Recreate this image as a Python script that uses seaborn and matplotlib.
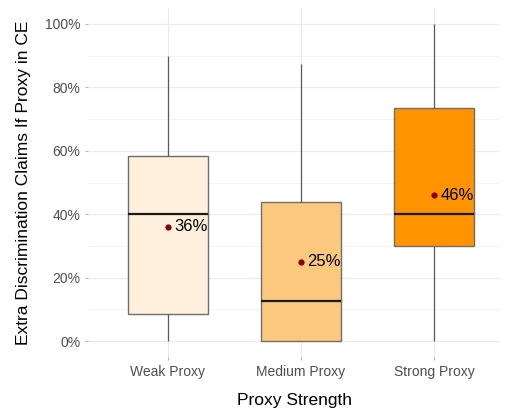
import numpy as np
import pandas as pd
import matplotlib
matplotlib.use("Agg")
import matplotlib.pyplot as plt
from matplotlib.ticker import FixedLocator, PercentFormatter
import seaborn as sns

# Five-number summaries (min, Q1, median, Q3, max) per proxy strength, in %
categories = ["Weak Proxy", "Medium Proxy", "Strong Proxy"]
weak_summary = [0, 8.5, 40, 58.5, 90]
medium_summary = [0, 0, 12.5, 44, 87.5]
strong_summary = [0, 30, 40, 73.5, 100]
means = [36, 25, 46]
fill_colors = ["#FEF0DC", "#FBC97E", "#FF9400"]

df = pd.DataFrame({
    "strength": np.repeat(categories, 5),
    "claims": weak_summary + medium_summary + strong_summary,
})

sns.set_theme(style="white")
plt.rcParams["font.family"] = ["Liberation Sans", "DejaVu Sans"]

fig = plt.figure(figsize=(5.06, 4.09), dpi=100)
ax = fig.add_axes([88 / 506, 52 / 409, 412.5 / 506, 349 / 409])

sns.boxplot(
    data=df, x="strength", y="claims", hue="strength", order=categories,
    hue_order=categories, palette=fill_colors, saturation=1, width=0.6,
    whis=(0, 100), linecolor="#6E6E6E", linewidth=1.0, fliersize=0,
    legend=False, ax=ax,
    medianprops={"color": "#1A1A1A", "linewidth": 1.6},
    whiskerprops={"color": "#5A5A5A", "linewidth": 0.9},
    capprops={"linewidth": 0}, zorder=2,
)

sns.stripplot(x=categories, y=means, order=categories, jitter=False,
              color="#8B0000", size=4.5, linewidth=0, ax=ax, zorder=4)

for i, m in enumerate(means):
    ax.text(i + 0.05, m, f"{m}%", ha="left", va="center",
            fontsize=12, color="black", zorder=5)

ax.set_xlim(-0.6, 2.5)
ax.set_ylim(-5, 105)
ax.yaxis.set_major_locator(FixedLocator([0, 20, 40, 60, 80, 100]))
ax.yaxis.set_minor_locator(FixedLocator([10, 30, 50, 70, 90]))
ax.yaxis.set_major_formatter(PercentFormatter(decimals=0))

ax.grid(True, which="major", color="#EBEBEB", linewidth=0.9, zorder=0)
ax.grid(True, which="minor", axis="y", color="#F3F3F3", linewidth=0.6, zorder=0)
ax.set_axisbelow(True)
for s in ax.spines.values():
    s.set_visible(False)

ax.tick_params(axis="both", which="major", length=2.5, width=0.6,
               color="#AAAAAA", labelsize=10, labelcolor="#4D4D4D", pad=3)
ax.tick_params(axis="y", which="minor", length=0)
ax.tick_params(axis="x", bottom=True)
ax.tick_params(axis="y", left=True)

ax.set_xlabel("Proxy Strength", fontsize=12.5, color="black", labelpad=10)
ax.set_ylabel("Extra Discrimination Claims If Proxy in CE", fontsize=12.5,
              color="black", labelpad=10)

fig.savefig("out.png", dpi=100)
